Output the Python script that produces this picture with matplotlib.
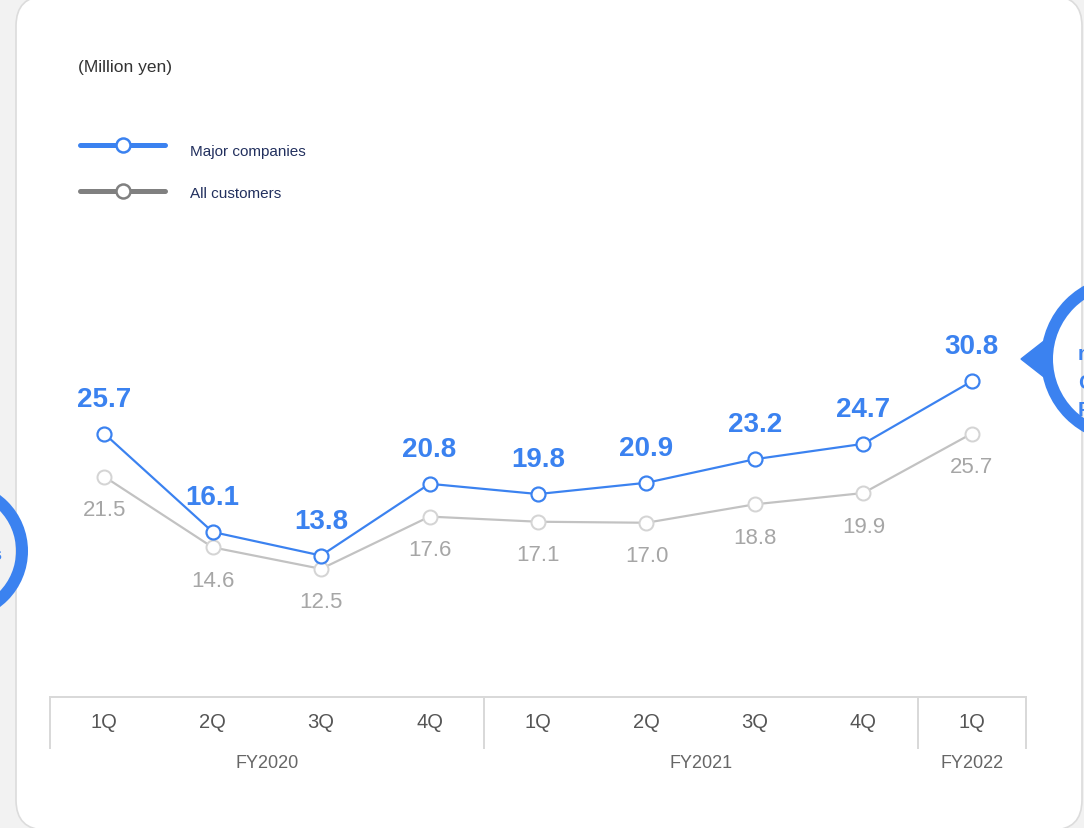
import matplotlib
matplotlib.use("Agg")
import matplotlib.pyplot as plt
from matplotlib.patches import FancyBboxPatch, Circle, Polygon

plt.rcParams['font.family'] = ['Liberation Sans', 'DejaVu Sans']

# data
quarters = ['1Q', '2Q', '3Q', '4Q', '1Q', '2Q', '3Q', '4Q', '1Q']
fiscal_years = ['FY2020', 'FY2021', 'FY2022']
fy_centers = [1.5, 5.5, 8]
fy_bounds = [-0.5, 3.5, 7.5, 8.5]
major = [25.7, 16.1, 13.8, 20.8, 19.8, 20.9, 23.2, 24.7, 30.8]
all_cust = [21.5, 14.6, 12.5, 17.6, 17.1, 17.0, 18.8, 19.9, 25.7]

BLUE = '#3b82f0'
GRAY = '#c2c2c2'
PX = 72 / 100  # points per pixel

W, H = 1084, 829
fig = plt.figure(figsize=(W / 100, H / 100), dpi=100, facecolor='#f2f2f2')

# background card + decorations, in pixel coords
bg = fig.add_axes([0, 0, 1, 1], zorder=0)
bg.set_xlim(0, W)
bg.set_ylim(H, 0)
bg.axis('off')
bg.add_patch(FancyBboxPatch((16, -3), 1066, 834, boxstyle='round,pad=0,rounding_size=30',
                            facecolor='white', edgecolor='#dcdcdc', lw=1.2))
bg.add_patch(Circle((-42, 552), 64, fill=False, edgecolor=BLUE, lw=12 * PX))
bg.add_patch(Circle((1125, 360), 78, fill=False, edgecolor=BLUE, lw=12 * PX))
bg.add_patch(Polygon([(1021, 360), (1044, 342), (1044, 378)], color=BLUE))
bg.text(1, 556, 's', color=BLUE, fontsize=13, fontweight='bold', ha='right', va='center')
for ch, yy in zip(['n', 'C', 'F'], [354, 383, 410]):
    bg.text(1078, yy, ch, color=BLUE, fontsize=15, fontweight='bold', ha='left', va='center')

bg.text(78, 67, '(Million yen)', fontsize=12.5, color='#333333', va='center')
legend_rows = [(146, 152, BLUE, 'Major companies'), (192, 194, '#808080', 'All customers')]
for yy, ty, col, lab in legend_rows:
    bg.plot([80, 165], [yy, yy], color=col, lw=5 * PX, solid_capstyle='round')
    bg.plot([123], [yy], marker='o', ms=14 * PX, mfc='white', mec=col, mew=2.5 * PX)
    bg.text(190, ty, lab, fontsize=11, color='#22305e', va='center')

# chart axes
ax = fig.add_axes([50 / W, (H - 698) / H, 976 / W, 448 / H], zorder=1)
ax.set_facecolor('none')
x = list(range(len(quarters)))
ax.plot(x, all_cust, color=GRAY, lw=2.2 * PX, marker='o', ms=14 * PX,
        mfc='white', mec='#d4d4d4', mew=2 * PX, zorder=2)
ax.plot(x, major, color=BLUE, lw=2.2 * PX, marker='o', ms=14 * PX,
        mfc='white', mec=BLUE, mew=2.2 * PX, zorder=3)
for i in x:
    ax.annotate(f'{major[i]:.1f}', (i, major[i]), xytext=(0, 35 * PX), textcoords='offset points',
                ha='center', va='center', fontsize=20, fontweight='bold', color=BLUE)
    ax.annotate(f'{all_cust[i]:.1f}', (i, all_cust[i]), xytext=(0, -33 * PX), textcoords='offset points',
                ha='center', va='center', fontsize=16, color='#a6a6a6')

ax.set_xlim(-0.5, 8.5)
ax.set_ylim(0, 448 / 10.25)
ax.set_xticks([])
ax.set_yticks([])
for s in ['top', 'left', 'right']:
    ax.spines[s].set_visible(False)
ax.spines['bottom'].set_color('#d9d9d9')
ax.spines['bottom'].set_linewidth(2 * PX)

trans = ax.get_xaxis_transform()
ax.vlines(fy_bounds, -52 / 448, 0, transform=trans, color='#d9d9d9', lw=2 * PX, clip_on=False)
for i, q in enumerate(quarters):
    ax.annotate(q, (i, 0), xycoords=trans, xytext=(0, -25 * PX), textcoords='offset points',
                ha='center', va='center', fontsize=14.5, color='#555555')
for c, fy in zip(fy_centers, fiscal_years):
    ax.annotate(fy, (c, 0), xycoords=trans, xytext=(0, -66 * PX), textcoords='offset points',
                ha='center', va='center', fontsize=13, color='#666666')

fig.savefig('out.png', dpi=100, facecolor=fig.get_facecolor())
